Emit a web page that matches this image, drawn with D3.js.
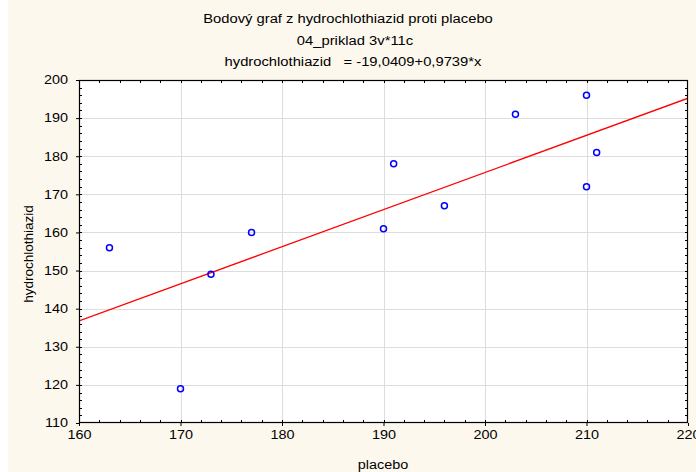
<!DOCTYPE html>
<html><head><meta charset="utf-8">
<script src="https://cdn.jsdelivr.net/npm/d3@7"></script>
<style>
html,body{margin:0;padding:0;background:#fdf8ee;}
svg text{font-family:"Liberation Sans",Arial,sans-serif;fill:#000;}
</style></head>
<body><svg id="c" width="696" height="472"></svg>
<script>
// ---- data ----
const placebo = [163,170,173,177,190,191,196,203,210,210,211];
const hydro   = [156,119,149,160,161,178,167,191,196,172,181];
const intercept = -19.0409, slope = 0.9739;
const xTicks = [160,170,180,190,200,210,220];
const yTicks = [110,120,130,140,150,160,170,180,190,200];
const titles = ["Bodový graf z hydrochlothiazid proti placebo","04_priklad 3v*11c","hydrochlothiazid   = -19,0409+0,9739*x"];
const xLabel = "placebo", yLabel = "hydrochlothiazid";

// ---- layout ----
const W=696,H=472, L=79, R=688, T=80, B=423;
const K=1.2; // horizontal stretch of text
const svg=d3.select("#c");
svg.append("rect").attr("width",W).attr("height",H).attr("fill","#fdf8ee");
svg.append("rect").attr("width",8).attr("height",H).attr("fill","#ffffff");
const x=d3.scaleLinear().domain([160,220]).range([L,R]);
const y=d3.scaleLinear().domain([110,200]).range([B,T]);

svg.append("rect").attr("x",L).attr("y",T).attr("width",R-L).attr("height",B-T).attr("fill","#fff");

// grid
const g=svg.append("g");
g.selectAll(".gx").data(xTicks.slice(1,-1)).join("line").attr("x1",d=>Math.round(x(d))+0.5).attr("x2",d=>Math.round(x(d))+0.5)
 .attr("y1",T).attr("y2",B).attr("stroke","#dddddd").attr("stroke-width",1);
g.selectAll(".gy").data(yTicks.slice(1,-1)).join("line").attr("y1",d=>Math.round(y(d))+0.5).attr("y2",d=>Math.round(y(d))+0.5)
 .attr("x1",L).attr("x2",R).attr("stroke","#dddddd").attr("stroke-width",1);

// regression line
svg.append("clipPath").attr("id","pc").append("rect").attr("x",L).attr("y",T).attr("width",R-L).attr("height",B-T);
const line=d3.line().x(d=>x(d)).y(d=>y(intercept+slope*d));
svg.append("path").datum([160,220]).attr("d",line).attr("fill","none").attr("stroke","#ff0000").attr("stroke-width",1.3).attr("clip-path","url(#pc)");

// points
svg.selectAll(".pt").data(placebo.map((p,i)=>[p,hydro[i]])).join("circle")
 .attr("cx",d=>x(d[0])).attr("cy",d=>y(d[1])).attr("r",3).attr("fill","none").attr("stroke","#0000ff").attr("stroke-width",1.5);

// minor ticks
const xm=d3.range(162,220,2), ym=d3.range(112,200,2);
const fr=svg.append("g").attr("stroke","#000").attr("stroke-width",1);
xm.forEach(v=>{const px=Math.round(x(v))+0.5;
  fr.append("line").attr("x1",px).attr("x2",px).attr("y1",B).attr("y2",B-3);
  fr.append("line").attr("x1",px).attr("x2",px).attr("y1",T).attr("y2",T+3);});
ym.forEach(v=>{const py=Math.round(y(v))+0.5;
  fr.append("line").attr("y1",py).attr("y2",py).attr("x1",L).attr("x2",L+3);
  fr.append("line").attr("y1",py).attr("y2",py).attr("x1",R).attr("x2",R-3);});
// frame
svg.append("rect").attr("x",L+0.5).attr("y",T+0.5).attr("width",R-L-1).attr("height",B-T-1).attr("fill","none").attr("stroke","#000").attr("stroke-width",1.2);

// axes
const ax=svg.append("g").attr("transform",`translate(0,${B})`).call(d3.axisBottom(x).tickValues(xTicks).tickSize(3).tickPadding(4).tickFormat(d3.format("d")));
const ay=svg.append("g").attr("transform",`translate(${L},0)`).call(d3.axisLeft(y).tickValues(yTicks).tickSize(3).tickPadding(8).tickFormat(d3.format("d")));
[ax,ay].forEach(a=>{a.select(".domain").remove();a.selectAll("text").attr("font-size",12).attr("font-family","Liberation Sans, Arial, sans-serif").attr("class","hs");a.selectAll("line").attr("stroke","#000");});

// titles
const ty=[23,45,66], tx=[348,355,353];
titles.forEach((t,i)=>svg.append("text").attr("class","tt").attr("x",tx[i]).attr("y",ty[i]).attr("text-anchor","middle").attr("font-size",12).style("white-space","pre").text(t));
svg.append("text").attr("class","hs").attr("x",383).attr("y",469).attr("text-anchor","middle").attr("font-size",12).text(xLabel);
svg.append("text").attr("class","yl").attr("transform","translate(32.5,254) rotate(-90)").attr("text-anchor","middle").attr("font-size",12.5).text(yLabel);

function stretch(sel,k){sel.each(function(){const w=this.getComputedTextLength();this.setAttribute("textLength",w*k);this.setAttribute("lengthAdjust","spacingAndGlyphs");});}
stretch(svg.selectAll("text.hs"),K);
stretch(svg.selectAll("text.tt"),1.23);
stretch(svg.selectAll("text.yl"),1.08);
</script></body></html>
